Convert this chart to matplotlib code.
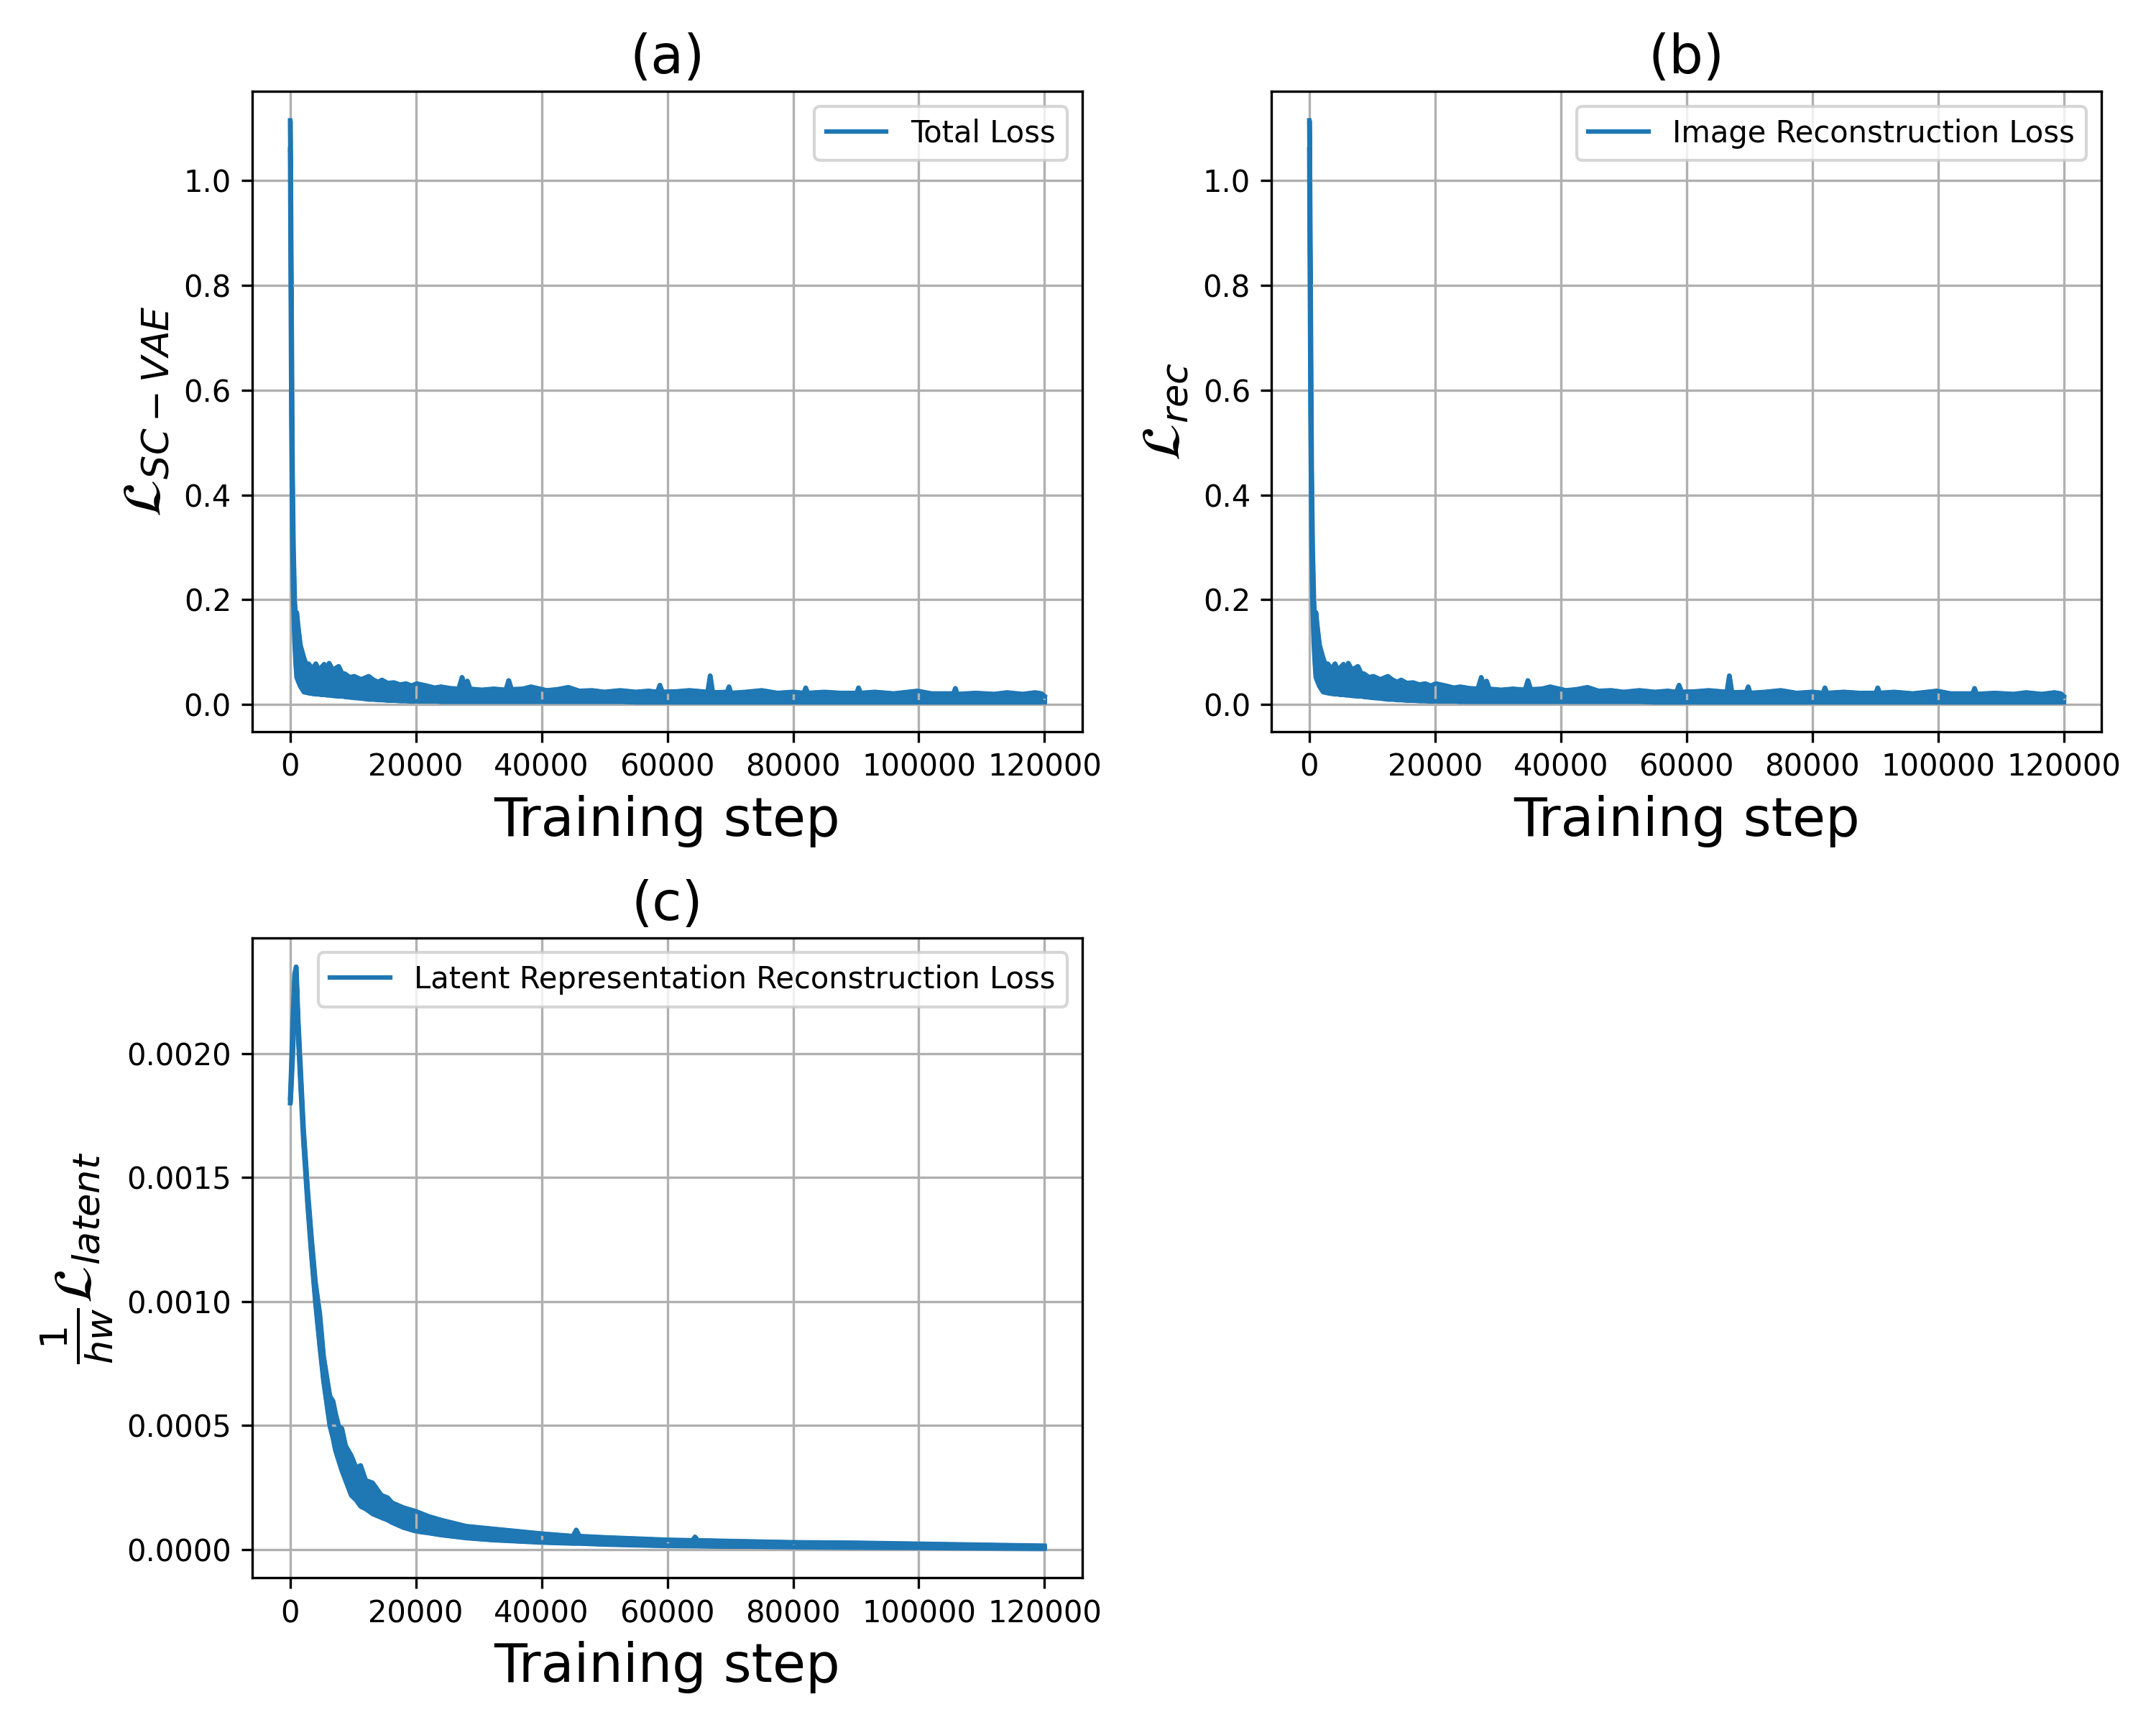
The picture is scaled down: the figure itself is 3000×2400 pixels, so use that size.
import numpy as np
import matplotlib.pyplot as plt

# readings: step, lower and upper edge of the noisy band
rec_steps = [0, 80, 200, 350, 500, 700, 900, 1030, 1250, 1600, 2180, 2600, 2940,
             3500, 4090, 4500, 4860, 5430, 5800, 6200, 6770, 7720, 8300, 8680,
             9500, 10200, 11300, 12500, 13270, 14000, 14600, 15500, 16520, 17500,
             18430, 19300, 20150, 21680, 23000, 24000, 25500, 26800, 27340, 27800,
             28180, 28600, 30500, 32400, 34300, 34760, 35200, 37000, 38300, 40800,
             42500, 44250, 46000, 48000, 50000, 52500, 55000, 57000, 58400, 58800,
             59200, 61500, 63500, 66400, 66800, 67200, 69500, 69800, 70100, 72500,
             75000, 77500, 80000, 81700, 82000, 82300, 85000, 87500, 90100, 90400,
             90700, 93000, 96000, 99800, 102000, 105500, 105800, 106100, 109000,
             112000, 114000, 116500, 118500, 119500, 120000]
rec_low = [1.06, 0.85, 0.55, 0.32, 0.20, 0.12, 0.075, 0.052, 0.045, 0.035, 0.024,
           0.023, 0.022, 0.021, 0.020, 0.020, 0.019, 0.019, 0.018, 0.018, 0.017,
           0.016, 0.016, 0.015, 0.014, 0.013, 0.012, 0.010, 0.010, 0.009, 0.009,
           0.008, 0.008, 0.007, 0.007, 0.006, 0.006, 0.006, 0.006, 0.005, 0.005,
           0.005, 0.005, 0.005, 0.005, 0.005, 0.005, 0.005, 0.005, 0.005, 0.005,
           0.005, 0.005, 0.005, 0.005, 0.005, 0.005, 0.005, 0.005, 0.005, 0.004,
           0.004, 0.004, 0.004, 0.004, 0.004, 0.004, 0.004, 0.004, 0.004, 0.004,
           0.004, 0.004, 0.004, 0.004, 0.004, 0.004, 0.004, 0.004, 0.004, 0.004,
           0.004, 0.004, 0.004, 0.004, 0.004, 0.004, 0.004, 0.004, 0.004, 0.004,
           0.004, 0.004, 0.004, 0.004, 0.004, 0.004, 0.004, 0.004]
rec_high = [1.115, 1.00, 0.75, 0.45, 0.30, 0.20, 0.15, 0.176, 0.15, 0.114, 0.089,
            0.075, 0.078, 0.068, 0.078, 0.065, 0.070, 0.077, 0.064, 0.079, 0.066,
            0.073, 0.058, 0.059, 0.052, 0.054, 0.048, 0.054, 0.047, 0.043, 0.047,
            0.041, 0.042, 0.038, 0.040, 0.036, 0.040, 0.036, 0.032, 0.034, 0.031,
            0.030, 0.052, 0.032, 0.045, 0.030, 0.028, 0.030, 0.028, 0.046, 0.029,
            0.030, 0.034, 0.027, 0.029, 0.033, 0.026, 0.027, 0.024, 0.027, 0.024,
            0.026, 0.024, 0.037, 0.024, 0.025, 0.027, 0.024, 0.055, 0.023, 0.024,
            0.034, 0.022, 0.024, 0.027, 0.022, 0.024, 0.022, 0.032, 0.022, 0.024,
            0.022, 0.022, 0.032, 0.022, 0.024, 0.021, 0.026, 0.021, 0.021, 0.031,
            0.020, 0.022, 0.020, 0.023, 0.020, 0.023, 0.021, 0.016]

# total loss reads the same as the image reconstruction loss at this scale
total_steps = list(rec_steps)
total_low = list(rec_low)
total_high = list(rec_high)

latent_steps = [0, 150, 400, 700, 950, 1250, 1600, 2100, 2800, 3400, 4000, 4700,
                5300, 6300, 6800, 7200, 7700, 8200, 8800, 9700, 10500, 11200,
                12000, 13100, 14500, 15500, 16200, 18000, 20000, 22000, 24000,
                28000, 32000, 36000, 40000, 45000, 45500, 46000, 50000, 60000,
                64000, 64400, 64800, 70000, 80000, 90000, 100000, 110000, 120000]
latent_low = [0.00180, 0.00186, 0.00200, 0.00222, 0.00232, 0.00208, 0.00190,
              0.00165, 0.00138, 0.00118, 0.00100, 0.00082, 0.00068, 0.00050,
              0.00045, 0.00040, 0.00036, 0.00032, 0.00028, 0.00022, 0.00020,
              0.000175, 0.000165, 0.000145, 0.000130, 0.000120, 0.000110,
              0.000090, 0.000075, 0.000068, 0.000060, 0.000048, 0.000040,
              0.000035, 0.000030, 0.000026, 0.000026, 0.000026, 0.000022,
              0.000016, 0.000015, 0.000015, 0.000015, 0.000013, 0.000010,
              0.000008, 0.000007, 0.000005, 0.000004]
latent_high = [0.00182, 0.00192, 0.00212, 0.00232, 0.00235, 0.00214, 0.00196,
               0.00170, 0.00144, 0.00125, 0.00108, 0.00095, 0.00078, 0.00062,
               0.00060, 0.00055, 0.00050, 0.00049, 0.00042, 0.00038, 0.00033,
               0.00034, 0.00028, 0.00027, 0.00022, 0.00021, 0.00019, 0.00017,
               0.000155, 0.000135, 0.000120, 0.000095, 0.000085, 0.000075,
               0.000065, 0.000055, 0.000080, 0.000055, 0.000050, 0.000040,
               0.000038, 0.000052, 0.000038, 0.000035, 0.000030, 0.000028,
               0.000024, 0.000020, 0.000016]

panels = [
    ('(a)', total_steps, total_low, total_high, 'Total Loss', r'$\mathcal{L}_{SC-VAE}$'),
    ('(b)', rec_steps, rec_low, rec_high, 'Image Reconstruction Loss', r'$\mathcal{L}_{rec}$'),
    ('(c)', latent_steps, latent_low, latent_high, 'Latent Representation Reconstruction Loss',
     r'$\frac{1}{hw}\mathcal{L}_{latent}$'),
]

fig, axes = plt.subplots(2, 2, figsize=(10, 8))
axes = axes.flatten()

for ax, (title, steps, low, high, label, ylabel) in zip(axes, panels):
    steps = np.array(steps)
    ax.fill_between(steps, low, high, color='C0', lw=1.5)
    ax.plot(steps, high, color='C0', lw=1.5, label=label)
    ax.plot(steps, low, color='C0', lw=1.5)
    ax.set_title(title, fontsize=18)
    ax.set_xlabel('Training step', fontsize=18)
    ax.set_ylabel(ylabel, fontsize=18)
    ax.grid(True)
    ax.legend(loc='upper right')

axes[3].remove()

plt.tight_layout()
plt.savefig('out.png', dpi=300)
